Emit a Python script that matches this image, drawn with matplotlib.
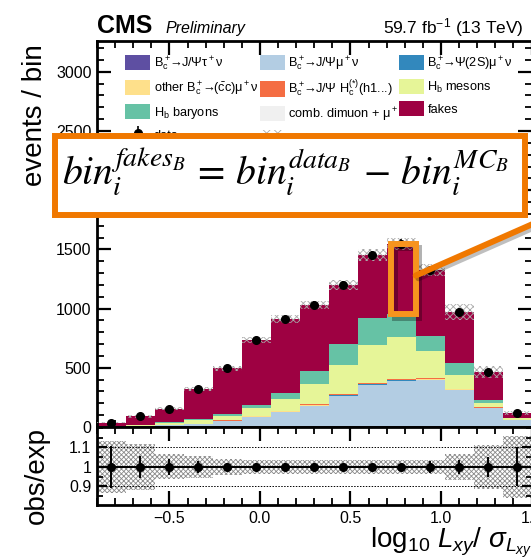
import numpy as np
import matplotlib
matplotlib.use('Agg')
import matplotlib.pyplot as plt
import matplotlib.patheffects as pe
from matplotlib.patches import Patch, Rectangle, ConnectionPatch
from matplotlib.ticker import MultipleLocator

plt.rcParams['font.family'] = ['Liberation Sans', 'DejaVu Sans']
plt.rcParams['mathtext.fontset'] = 'custom'
plt.rcParams['mathtext.rm'] = 'Liberation Sans'
plt.rcParams['mathtext.it'] = 'Liberation Sans:italic'
plt.rcParams['mathtext.bf'] = 'Liberation Sans:bold'
plt.rcParams['hatch.linewidth'] = 0.6

###########################################################
# binning : log10(Lxy / sigma_Lxy)
###########################################################
edges = np.linspace(-0.9, 1.5, 16)
centers = 0.5 * (edges[:-1] + edges[1:])
width = edges[1] - edges[0]

# observed events per bin
obs = [35, 90, 155, 320, 497, 733, 910, 1030, 1197, 1450, 1545, 1324, 970, 464, 118]

# simulated components (stacked bottom -> top)
tau = [1, 1, 2, 2, 3, 4, 5, 6, 7, 8, 8, 7, 6, 3, 2]
jpsi_mu = [3, 7, 13, 23, 47, 80, 121, 171, 254, 346, 380, 389, 306, 157, 53]
psi2s = [0, 0, 1, 1, 2, 3, 3, 4, 5, 5, 5, 5, 4, 2, 1]
other_cc = [0, 0, 1, 1, 2, 3, 4, 5, 5, 6, 6, 5, 4, 2, 1]
jpsi_hc = [0, 1, 1, 2, 3, 4, 5, 6, 7, 8, 8, 7, 5, 3, 1]
hb_mesons = [4, 6, 16, 30, 33, 70, 98, 171, 245, 318, 352, 228, 113, 35, 17]
hb_baryons = [1, 2, 4, 8, 20, 20, 51, 109, 177, 228, 194, 126, 102, 26, 5]
comb_dimuon = [0, 0, 0, 1, 1, 1, 1, 1, 1, 1, 1, 1, 1, 1, 0]

# relative stat. uncertainty of the prediction and of the data
mc_unc = [0.133, 0.12, 0.064, 0.057, 0.042, 0.035, 0.035, 0.035, 0.035, 0.035, 0.035, 0.038, 0.068, 0.115, 0.16]
ratio_err = [0.107, 0.055, 0.04, 0.03, 0.022, 0.02, 0.018, 0.018, 0.017, 0.016, 0.016, 0.03, 0.036, 0.05, 0.1]

# bin picked out to illustrate the fake estimate
hl_bin = 10

###########################################################
obs = np.array(obs, dtype=float)
mc = [tau, jpsi_mu, psi2s, other_cc, jpsi_hc, hb_mesons, hb_baryons, comb_dimuon]
mc = [np.array(m, dtype=float) for m in mc]
mc_total = np.sum(mc, axis=0)
# fakes = data - MC, bin by bin
fakes = obs - mc_total
components = mc + [fakes]

bc = r'B$_\mathrm{c}^+$'
arr = r'$\!\!\rightarrow\!\!$'
labels = [bc + arr + r'J/Ψτ$^+$ν',
          bc + arr + r'J/Ψμ$^+$ν',
          bc + arr + r'Ψ(2S)μ$^+$ν',
          'other ' + bc + arr + r'($\bar{\mathrm{c}}$c)μ$^+$ν',
          bc + arr + r'J/Ψ H$_\mathrm{c}^{(*)}$(h1...)',
          r'H$_\mathrm{b}$ mesons',
          r'H$_\mathrm{b}$ baryons',
          r'comb. dimuon + μ$^+$',
          'fakes']
colors = ['#5e4fa2', '#b3cde3', '#3288bd', '#fee08b', '#f46d43',
          '#e6f598', '#66c2a5', '#f0f0f0', '#9e0142']
orange = '#f07800'
hatch_col = '#a8a8a8'

fig = plt.figure(figsize=(5.31, 5.58), dpi=100)
ax = fig.add_axes([0.1827, 0.2348, 0.8183, 0.6917])
rax = fig.add_axes([0.1827, 0.095, 0.8183, 0.1398], sharex=ax)

# stacked histogram
bottom = np.zeros(len(centers))
patches = []
for vals, col, lab in zip(components, colors, labels):
    ax.bar(centers, vals, width=width, bottom=bottom, color=col, linewidth=0, zorder=2)
    patches.append(Patch(facecolor=col, edgecolor='none', label=lab))
    bottom = bottom + vals
total = bottom

# stat. band on top of the stack
unc = np.array(mc_unc)
ax.bar(centers, 2 * total * unc, width=width, bottom=total * (1 - unc), fill=False,
       hatch='xxxxx', edgecolor=hatch_col, linewidth=0, zorder=3)
data_eb = ax.errorbar(centers, obs, yerr=np.sqrt(obs), fmt='o', color='k', ms=5.5,
                      elinewidth=1.2, capsize=0, zorder=4, label='data')
unc_patch = Patch(fill=False, hatch='xxx', edgecolor=hatch_col, linewidth=0, label='stat. unc.')

ax.set_xlim(edges[0], edges[-1])
ax.set_ylim(0, 3260)
ax.xaxis.set_major_locator(MultipleLocator(0.5))
ax.xaxis.set_minor_locator(MultipleLocator(0.1))
ax.yaxis.set_major_locator(MultipleLocator(500))
ax.yaxis.set_minor_locator(MultipleLocator(100))

# legend filled column by column
order = [0, 3, 6, 'data', 1, 4, 7, 'unc', 2, 5, 8]
handles = []
for o in order:
    if o == 'data':
        handles.append(data_eb)
    elif o == 'unc':
        handles.append(unc_patch)
    else:
        handles.append(patches[o])
ax.legend(handles=handles, ncol=3, loc='upper left', bbox_to_anchor=(0.0506, 0.982),
          frameon=False, fontsize=9.2, borderpad=0, handlelength=1.95, handleheight=1.45,
          handletextpad=0.25, labelspacing=0.48, columnspacing=0.1)

# ratio panel
rax.bar(centers, 2 * unc, width=width, bottom=1 - unc, fill=False,
        hatch='xxxxxxx', edgecolor='#8a8a8a', linewidth=0, zorder=1)
rax.axhline(1.0, color='k', lw=1.2, zorder=2)
rax.axhline(1.1, color='k', lw=0.7, ls=(0, (1.5, 1.5)), zorder=2)
rax.axhline(0.9, color='k', lw=0.7, ls=(0, (1.5, 1.5)), zorder=2)
rax.errorbar(centers, obs / total, yerr=ratio_err, xerr=width / 2, fmt='o', color='k',
             ms=5.5, elinewidth=1.4, capsize=0, zorder=3)
rax.set_ylim(0.805, 1.205)
rax.set_yticks([0.9, 1.0, 1.1])
rax.set_yticklabels(['0.9', '1', '1.1'])
rax.yaxis.set_minor_locator(MultipleLocator(0.05))

for a in (ax, rax):
    a.tick_params(which='both', direction='in', top=True, right=True, labelsize=11.5, pad=4)
    a.tick_params(which='major', length=10, width=1.6)
    a.tick_params(which='minor', length=5, width=1.3)
    for s in a.spines.values():
        s.set_linewidth(2)
rax.tick_params(axis='y', which='major', length=7)
rax.tick_params(axis='y', which='minor', length=4)
ax.tick_params(labelbottom=False)

# axis titles and header
fig.text(0.066, 1 - 115 / 558, 'events / bin', rotation=90, fontsize=20, ha='center', va='center')
fig.text(0.070, 1 - 476 / 558, 'obs/exp', rotation=90, fontsize=20, ha='center', va='center')
fig.text(370 / 531, 1 - 547 / 558, r'log$_{10}$ $L_{xy}$/ $\sigma_{L_{xy}}$', fontsize=20,
         ha='left', va='baseline')
fig.text(97 / 531, 1 - 33 / 558, 'CMS', fontsize=18, fontweight='bold', ha='left', va='baseline')
fig.text(165 / 531, 1 - 33 / 558, 'Preliminary', fontsize=11.5, style='italic', ha='left', va='baseline')
fig.text(524 / 531, 1 - 33 / 558, r'59.7 fb$^{-1}$ (13 TeV)', fontsize=12.5, ha='right', va='baseline')

# highlighted fake contribution in one bin
lo, hi = edges[hl_bin], edges[hl_bin + 1]
box = Rectangle((lo + 0.025, total[hl_bin] - fakes[hl_bin]), hi - lo - 0.025, fakes[hl_bin],
                fill=False, edgecolor='#f7941e', linewidth=4.3, zorder=5,
                path_effects=[pe.SimpleLineShadow(offset=(2.5, -2.5), alpha=0.3), pe.Normal()])
ax.add_patch(box)

link = ConnectionPatch(xyA=(hi, total[hl_bin] - 0.45 * fakes[hl_bin]), coordsA=ax.transData,
                       xyB=(560 / 531, 1 - 212 / 558), coordsB=fig.transFigure,
                       color=orange, linewidth=4.3, arrowstyle='-', zorder=6,
                       path_effects=[pe.SimpleLineShadow(offset=(2, -2), alpha=0.25), pe.Normal()])
fig.add_artist(link)

# formula box
frame = Rectangle((55 / 531, 1 - 215 / 558), 470 / 531, 79 / 558, transform=fig.transFigure,
                  facecolor='white', edgecolor=orange, linewidth=4.3, zorder=7)
fig.add_artist(frame)
fig.text(62 / 531, 1 - 185 / 558,
         r'$bin_i^{fakes_B}\, =\, bin_i^{data_B}\, -\, bin_i^{MC_B}$',
         math_fontfamily='stix', fontsize=28.5, ha='left', va='baseline', zorder=8)

fig.savefig('out.png', dpi=100)
